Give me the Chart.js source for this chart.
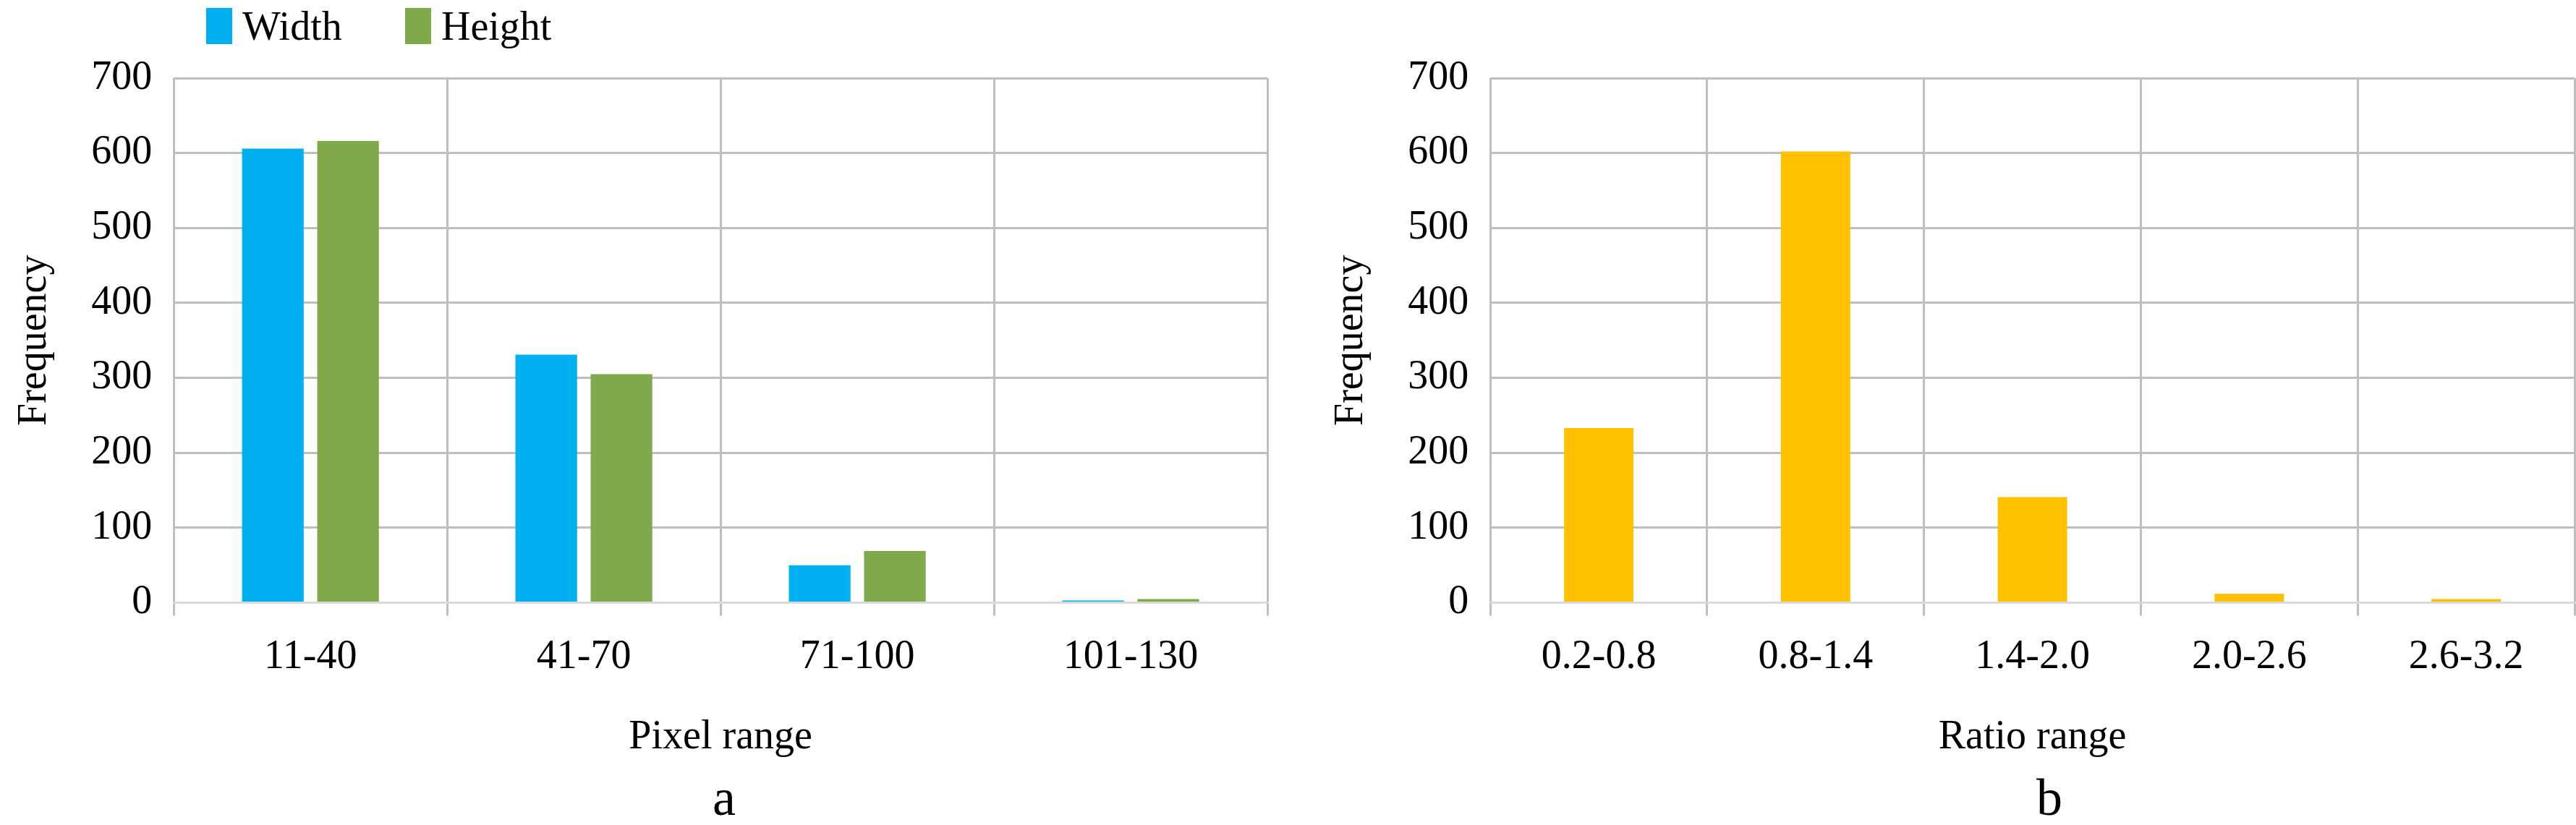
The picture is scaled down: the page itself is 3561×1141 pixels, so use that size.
<!DOCTYPE html>
<html>
<head>
<meta charset="utf-8">
<script src="https://cdn.jsdelivr.net/npm/chart.js@4"></script>
<style>
  body { margin: 0; background: #fff; width: 3561px; height: 1141px; position: relative; overflow: hidden; font-family: "Liberation Serif", serif; }
  .box { position: absolute; top: 0; height: 1058px; }
  .cap { position: absolute; top: 1062px; font-size: 72px; color: #000; }
  .leg { position: absolute; top: 4px; font-size: 56px; color: #000; display: flex; align-items: center; }
  .sw { display: inline-block; width: 36px; height: 50px; margin-right: 14px; }
</style>
</head>
<body>
<div class="box" style="left:0;width:1780px"><canvas id="chartA"></canvas></div>
<div class="box" style="left:1780px;width:1781px"><canvas id="chartB"></canvas></div>
<div id="legendA"></div>
<div class="cap" style="left:985px">a</div>
<div class="cap" style="left:2815px">b</div>
<script>
const pixelRanges = ['11-40', '41-70', '71-100', '101-130'];
const widthFreq = [606, 331, 50, 3];
const heightFreq = [616, 305, 69, 5];

const ratioRanges = ['0.2-0.8', '0.8-1.4', '1.4-2.0', '2.0-2.6', '2.6-3.2'];
const ratioFreq = [233, 602, 141, 12, 5];

const yTicks = [0, 100, 200, 300, 400, 500, 600, 700];

Chart.defaults.font.family = '"Liberation Serif", "Times New Roman", serif';
Chart.defaults.color = '#000';

function axes(xTitle) {
    return {
        x: {
            grid: { color: '#bfbfbf', lineWidth: 3, tickLength: 18, offset: true },
            border: { color: '#d9d9d9', width: 3 },
            ticks: { font: { size: 56 }, padding: 24 },
            title: { display: true, text: xTitle, font: { size: 56 }, padding: { top: 20 } }
        },
        y: {
            min: 0, max: 700,
            afterBuildTicks: axis => { axis.ticks = yTicks.map(v => ({ value: v })); },
            grid: { color: '#bfbfbf', lineWidth: 3, drawTicks: false },
            border: { display: false },
            ticks: { font: { size: 56 }, padding: 30 },
            title: { display: true, text: 'Frequency', font: { size: 56 }, padding: { bottom: 14 } }
        }
    };
}

const chartA = new Chart(document.getElementById('chartA'), {
    type: 'bar',
    data: {
        labels: pixelRanges,
        datasets: [
            { label: 'Width', data: widthFreq, backgroundColor: '#00b0f0', barPercentage: 0.82, categoryPercentage: 0.55 },
            { label: 'Height', data: heightFreq, backgroundColor: '#7fa94a', barPercentage: 0.82, categoryPercentage: 0.55 }
        ]
    },
    options: {
        responsive: true, maintainAspectRatio: false, animation: false,
        layout: { padding: { left: 11, right: 28, top: 108 } },
        plugins: { legend: { display: false }, tooltip: { enabled: false } },
        scales: axes('Pixel range')
    }
});

// legend drawn as html next to the left chart
const legendX = [285, 560];
document.getElementById('legendA').innerHTML = chartA.data.datasets.map((ds, i) =>
    `<div class="leg" style="left:${legendX[i]}px"><span class="sw" style="background:${ds.backgroundColor}"></span>${ds.label}</div>`
).join('');

new Chart(document.getElementById('chartB'), {
    type: 'bar',
    data: {
        labels: ratioRanges,
        datasets: [
            { label: 'Ratio', data: ratioFreq, backgroundColor: '#ffc000', barPercentage: 1, categoryPercentage: 0.32 }
        ]
    },
    options: {
        responsive: true, maintainAspectRatio: false, animation: false,
        layout: { padding: { left: 51, right: 2, top: 108 } },
        plugins: { legend: { display: false }, tooltip: { enabled: false } },
        scales: axes('Ratio range')
    }
});
</script>
</body>
</html>
